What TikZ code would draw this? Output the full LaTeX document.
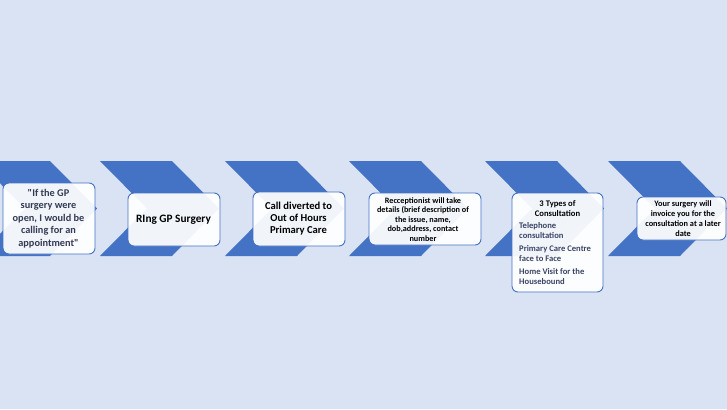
\documentclass[tikz,border=0pt]{standalone}
\usepackage{fontspec}
\setmainfont{Carlito}[Ligatures=TeXOff]
\definecolor{bg}{HTML}{DAE3F3}
\definecolor{chev}{HTML}{4472C4}
\definecolor{slate}{HTML}{333A52}
\definecolor{listc}{HTML}{3A4466}
\begin{document}
\begin{tikzpicture}[x=1pt,y=-1pt,
  box/.style={draw=chev, line width=0.9pt, rounded corners=6pt, fill=white, fill opacity=0.93, text opacity=1, inner sep=0pt},
  lbl/.style={align=center, inner sep=0pt, text=black},
  fs/.style n args={2}{font=\fontsize{#1}{#2}\selectfont\bfseries}]
\fill[bg] (0,0) rectangle (727,409);
\useasboundingbox (0,0) rectangle (727,409);
\clip (0,0) rectangle (727,409);
\foreach \x in {-22,100,225,349,485,608} {
  \fill[chev] (\x,161) -- ++(72,0) -- ++(47,47.5) -- ++(-47,47.5) -- ++(-72,0) -- ++(47,-47.5) -- cycle;
}
\node[box, minimum width=92pt, minimum height=71pt] (b1) at (49,218.5) {};
\node[box, minimum width=92pt, minimum height=53pt] (b2) at (174,219.5) {};
\node[box, minimum width=92pt, minimum height=54pt] (b3) at (299,219) {};
\node[box, minimum width=112pt, minimum height=52pt] (b4) at (425,219) {};
\node[box, minimum width=91pt, minimum height=99pt] (b5) at (557.5,242.5) {};
\node[box, minimum width=89pt, minimum height=43pt] (b6) at (681.5,218.5) {};

\node[lbl, fs={10.3}{12.5}, text=slate] (t1) at (48.5,218.5)
  {"If the GP\\surgery were\\open, I would be\\calling for an\\appointment"};
\node[lbl, fs={11.3}{13}] (t2) at (173.5,219.3) {RIng GP Surgery};
\node[lbl, fs={10.6}{12}] (t3) at (298.5,218.7) {Call diverted to\\Out of Hours\\Primary Care};
\node[lbl, fs={8.2}{9.5}] (t4) at (423,219.5)
  {Recceptionist will take\\details (brief description of\\the issue, name,\\dob,address, contact\\number};
\node[lbl, fs={8.6}{10}] (t5) at (557.5,208.3) {3 Types of\\Consultation};
\node[lbl, fs={8.6}{9.9}, align=left, text=listc, anchor=north west] (t5l) at (519,222.5)
  {Telephone\\consultation\\[2.9pt]Primary Care Centre\\face to Face\\[2.9pt]Home Visit for the\\Housebound};
\node[lbl, fs={8.3}{10}] (t6) at (683,218.7)
  {Your surgery will\\invoice you for the\\consultation at a later\\date};
\end{tikzpicture}
\end{document}
